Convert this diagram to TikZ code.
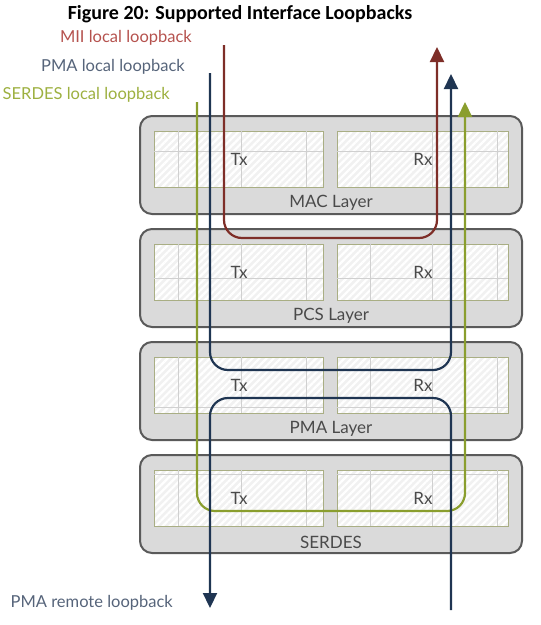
\documentclass[tikz,border=0pt]{standalone}
\usepackage{fontspec}
\setmainfont{Lato}
\newfontfamily\ttlfont{Carlito}
\usetikzlibrary{arrows.meta,patterns.meta}
\definecolor{layerfill}{HTML}{DADADA}
\definecolor{layerdraw}{HTML}{5A5A5A}
\definecolor{innerfill}{HTML}{F1F1F1}
\definecolor{innerdraw}{HTML}{A9AE84}
\definecolor{gridc}{HTML}{D0D0D0}
\definecolor{miic}{HTML}{7E2E28}
\definecolor{pmac}{HTML}{1F3552}
\definecolor{serc}{HTML}{8A9E2E}
\definecolor{miit}{HTML}{B5524E}
\definecolor{pmat}{HTML}{56647A}
\definecolor{sert}{HTML}{9DB040}
\definecolor{txtc}{HTML}{4A4A4A}
\tikzset{
  layerbox/.style={draw=layerdraw, line width=2pt, fill=layerfill, rounded corners=12pt,
    minimum width=382pt, minimum height=98pt, inner sep=0pt},
  innerbox/.style={preaction={fill=innerfill}, pattern={Lines[angle=45,distance=5pt,line width=2.2pt]},
    pattern color=white!97!innerfill, draw=innerdraw, line width=0.8pt, inner sep=0pt, minimum height=56pt},
  gridline/.style={draw=gridc, line width=0.8pt},
  lbl/.style={font=\fontsize{17}{19}\selectfont, text=txtc, inner sep=0pt},
  loopline/.style={line width=2.2pt, rounded corners=18pt},
  tip/.style={-{Triangle[width=14pt,length=15pt]}},
  caption/.style={font=\fontsize{16.5}{18}\selectfont, inner sep=0pt, anchor=east},
}
\begin{document}
\begin{tikzpicture}[x=1pt,y=-1pt]
\useasboundingbox (0,0) rectangle (541,625);
\node[font=\ttlfont\bfseries\fontsize{20}{22}\selectfont, inner sep=0pt] (title) at (240,14) {Figure 20: Supported Interface Loopbacks};

\foreach \nm/\lab/\yy/\hl in {mac/MAC Layer/116/21, pcs/PCS Layer/229/35, pma/PMA Layer/342/51, ser/SERDES/455/5}{
  \node[layerbox] (\nm) at (331,\yy+49) {};
  \node[innerbox, minimum width=169pt] (\nm tx) at (238.5,\yy+43) {};
  \node[innerbox, minimum width=171pt] (\nm rx) at (422.5,\yy+43) {};
  \foreach \dx in {25,88,153}{
    \draw[gridline] ([xshift=\dx pt]\nm tx.north west) -- ([xshift=\dx pt]\nm tx.south west);
  }
  \foreach \dx in {34,96,161}{
    \draw[gridline] ([xshift=\dx pt]\nm rx.north west) -- ([xshift=\dx pt]\nm rx.south west);
  }
  \draw[gridline] ([yshift=-\hl pt]\nm tx.north west) -- ([yshift=-\hl pt]\nm tx.north east);
  \draw[gridline] ([yshift=-\hl pt]\nm rx.north west) -- ([yshift=-\hl pt]\nm rx.north east);
  \node[lbl] (\nm txl) at (239,\yy+43) {Tx};
  \node[lbl] (\nm rxl) at (423,\yy+43) {Rx};
  \node[lbl] (\nm l) at (331,\yy+87) {\lab};
}

% labels
\node[caption, text=miit] (miil) at (192,38) {MII local loopback};
\node[caption, text=pmat] (pmal) at (185,67) {PMA local loopback};
\node[caption, text=sert] (serl) at (170,95) {SERDES local loopback};
\node[caption, text=pmat] (reml) at (173,603) {PMA remote loopback};

% coordinates of loop ends
\coordinate (miiA) at (224,45);
\coordinate (miiB) at (437,47);
\coordinate (pmaA) at (210,73);
\coordinate (pmaB) at (451,74);
\coordinate (serA) at (197,102);
\coordinate (serB) at (465,102);
\coordinate (remA) at (451,610);
\coordinate (remB) at (210,608);

\draw[loopline, miic, tip] (miiA) -- (miiA |- 0,238) -- (miiB |- 0,238) -- (miiB);
\draw[loopline, pmac, tip] (pmaA) -- (pmaA |- 0,370) -- (pmaB |- 0,370) -- (pmaB);
\draw[loopline, serc, tip] (serA) -- (serA |- 0,511) -- (serB |- 0,511) -- (serB);
\draw[loopline, pmac, tip] (remA) -- (remA |- 0,398) -- (remB |- 0,398) -- (remB);
\end{tikzpicture}
\end{document}
